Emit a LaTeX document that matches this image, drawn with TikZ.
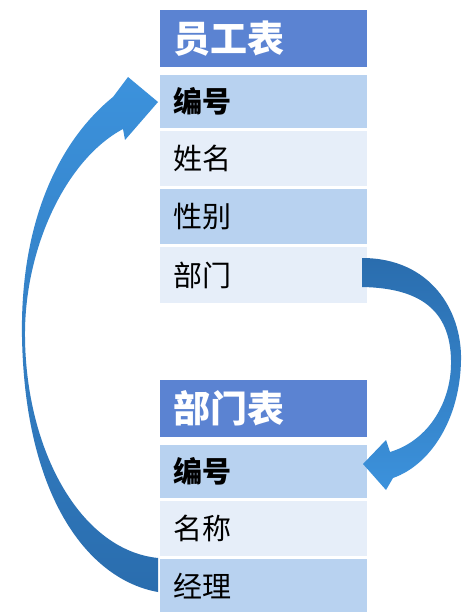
\documentclass[tikz,border=0pt]{standalone}
\usepackage{fontspec}
\newfontfamily\cjk{Noto Sans CJK SC}
\definecolor{hdr}{HTML}{5B83D2}
\definecolor{rowd}{HTML}{B8D2F0}
\definecolor{rowl}{HTML}{E6EEF9}
\definecolor{arrlight}{HTML}{3C92DC}
\definecolor{arrdark}{HTML}{2A6DAE}
\begin{document}
\begin{tikzpicture}[x=1pt,y=-1pt,
  cell/.style={rectangle, anchor=north west, inner xsep=13pt, inner ysep=0pt,
    text width=181pt, align=left, font=\cjk\fontsize{29}{32}\selectfont},
  hdrcell/.style={cell, fill=hdr, text=white, font=\cjk\bfseries\fontsize{37}{40}\selectfont},
  dark/.style={cell, fill=rowd},
  light/.style={cell, fill=rowl},
  blockarrow/.style={draw=none}]
\useasboundingbox[fill=white] (0,0) rectangle (462,612);

% employee table
\node[hdrcell, minimum height=57pt] (eh) at (160,10) {员工表};
\node[dark, minimum height=53pt] (e1) at (160,75) {\bfseries 编号};
\node[light, minimum height=55pt] (e2) at (160,131) {姓名};
\node[dark, minimum height=55pt] (e3) at (160,189) {性别};
\node[light, minimum height=56pt] (e4) at (160,247) {部门};

% department table
\node[hdrcell, minimum height=57pt] (dh) at (160,380) {部门表};
\node[dark, minimum height=53pt] (d1) at (160,445) {\bfseries 编号};
\node[light, minimum height=55pt] (d2) at (160,501) {名称};
\node[dark, minimum height=53pt] (d3) at (160,559) {经理};

% left curved arrow: 经理 -> 员工表.编号
\shade[blockarrow, top color=arrlight, bottom color=arrdark]
  (158,592) .. controls (90,580) and (25,500) .. (22,337)
  .. controls (20,220) and (60,140) .. (113,97)
  -- (128,77) -- (158,102) -- (125,140) -- (123,129)
  .. controls (65,160) and (24,250) .. (25,337)
  .. controls (26,450) and (80,550) .. (158,558)
  -- cycle;

% right curved arrow: 员工表.部门 -> 部门表.编号
\shade[blockarrow, top color=arrdark, bottom color=arrlight]
  (362,258) .. controls (430,258) and (462,310) .. (461,360)
  .. controls (460,420) and (430,465) .. (393,478)
  -- (386,490) -- (363,464) -- (386,440) -- (390,452)
  .. controls (430,440) and (452,400) .. (451,360)
  .. controls (450,310) and (420,288) .. (362,287)
  -- cycle;
\end{tikzpicture}
\end{document}
